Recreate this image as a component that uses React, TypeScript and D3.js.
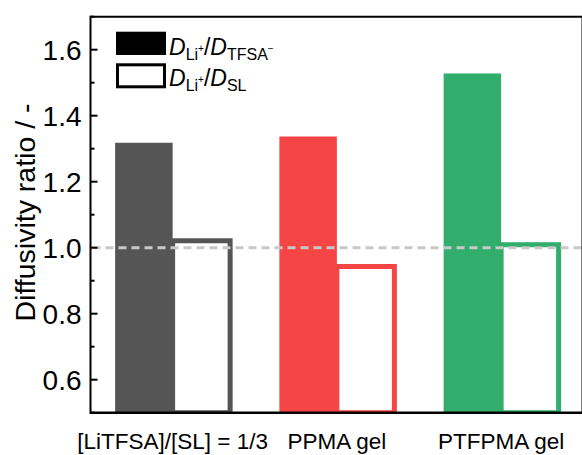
import React from 'react';
import * as d3 from 'd3';

const categories = ['[LiTFSA]/[SL] = 1/3', 'PPMA gel', 'PTFPMA gel'];
const ratioTFSA = [1.318, 1.337, 1.528];
const ratioSL = [1.021, 0.943, 1.009];
const barColors = ['#555555', '#F64545', '#32AE6C'];
const yTicks = [0.6, 0.8, 1.0, 1.2, 1.4, 1.6];
const yMinorTicks = [0.5, 0.7, 0.9, 1.1, 1.3, 1.5, 1.7];
const refLine = 1.0;

const W = 582;
const H = 455;
const left = 90.5;
const right = 583.25;
const top = 16.7;
const bottom = 412.7;
const FONT = '"Liberation Sans", Arial, sans-serif';

export default function App() {
  const x = d3.scaleBand<string>().domain(categories).range([left, right]).padding(0);
  const y = d3.scaleLinear().domain([0.5, 1.7]).range([bottom, top]);
  const bw = 57.5;
  const sw = 5;

  return (
    <svg width={W} height={H} style={{ position: 'absolute', left: 0, top: 0, background: '#fff' }} fontFamily={FONT}>
      <defs>
        <clipPath id="plot">
          <rect x={left} y={top} width={right - left} height={bottom - top} />
        </clipPath>
      </defs>
      <g clipPath="url(#plot)">
        {categories.map((c, i) => {
          const cx = (x(c) as number) + x.bandwidth() / 2;
          return (
            <g key={c}>
              <rect x={cx} y={y(ratioSL[i])} width={bw} height={y(0.5) - y(ratioSL[i])}
                fill="#fff" stroke={barColors[i]} strokeWidth={sw} />
              <rect x={cx - bw} y={y(ratioTFSA[i])} width={bw} height={y(0.5) - y(ratioTFSA[i])}
                fill={barColors[i]} />
            </g>
          );
        })}
        <line x1={left + 2} x2={right} y1={y(refLine)} y2={y(refLine)} stroke="#c8c8c8" strokeWidth={3} strokeDasharray="8,5" />
      </g>
      {/* axes */}
      <line x1={left} x2={right} y1={top} y2={top} stroke="#000" strokeWidth={2} />
      <line x1={582.5} x2={582.5} y1={top} y2={bottom} stroke="#000" strokeWidth={2} />
      <line x1={left} x2={right} y1={bottom} y2={bottom} stroke="#000" strokeWidth={2.5} />
      <line x1={left} x2={left} y1={top - 1} y2={bottom + 1.25} stroke="#000" strokeWidth={2} />
      {yTicks.map(t => (
        <g key={t}>
          <line x1={left} x2={left + 7} y1={y(t)} y2={y(t)} stroke="#000" strokeWidth={2} />
          <text x={left - 9} y={y(t)} dy="0.36em" textAnchor="end" fontSize={28} fill="#000">{d3.format('.1f')(t)}</text>
        </g>
      ))}
      {yMinorTicks.map(t => (
        <line key={t} x1={left} x2={left + 4} y1={y(t)} y2={y(t)} stroke="#000" strokeWidth={2} />
      ))}
      {categories.map(c => (
        <text key={c} x={(x(c) as number) + x.bandwidth() / 2} y={449} textAnchor="middle" fontSize={22.5} fill="#000">{c}</text>
      ))}
      <text transform={`translate(35,212.5) rotate(-90)`} textAnchor="middle" fontSize={28.5} fill="#000">Diffusivity ratio / -</text>
      {/* legend */}
      <rect x={116} y={31.7} width={50} height={23.3} fill="#000" />
      <rect x={117.5} y={64.8} width={47} height={22} fill="#fff" stroke="#000" strokeWidth={3} />
      <text x={169} y={55} fontSize={23} fill="#000">
        <tspan fontStyle="italic">D</tspan>
        <tspan fontSize={16} dy={5}>Li</tspan>
        <tspan fontSize={10} dy={-8}>+</tspan>
        <tspan dy={3}>/</tspan>
        <tspan fontStyle="italic">D</tspan>
        <tspan fontSize={16} dy={5}>TFSA</tspan>
        <tspan fontSize={10} dy={-8}>−</tspan>
      </text>
      <text x={169} y={85.5} fontSize={23} fill="#000">
        <tspan fontStyle="italic">D</tspan>
        <tspan fontSize={16} dy={5}>Li</tspan>
        <tspan fontSize={10} dy={-8}>+</tspan>
        <tspan dy={3}>/</tspan>
        <tspan fontStyle="italic">D</tspan>
        <tspan fontSize={16} dy={5}>SL</tspan>
      </text>
    </svg>
  );
}
